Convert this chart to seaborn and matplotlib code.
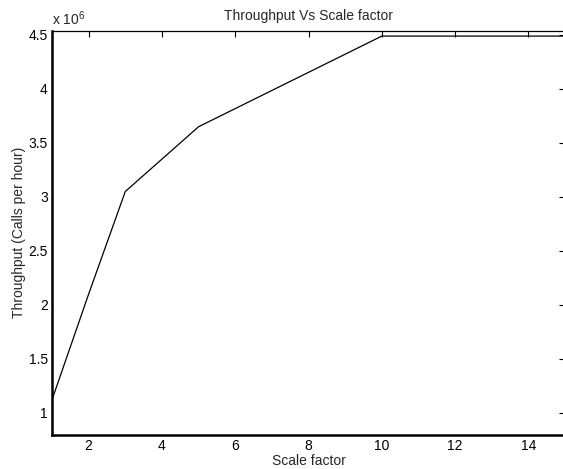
import matplotlib
matplotlib.use("Agg")
import matplotlib.pyplot as plt
import seaborn as sns
import pandas as pd
from matplotlib.ticker import FuncFormatter

scale_factor = [1, 2, 3, 5, 10, 15]
throughput = [1.12e6, 2.1e6, 3.05e6, 3.65e6, 4.49e6, 4.49e6]
x_ticks = [2, 4, 6, 8, 10, 12, 14]
y_ticks = [1e6, 1.5e6, 2e6, 2.5e6, 3e6, 3.5e6, 4e6, 4.5e6]

sns.set_style("white")
plt.rcParams['font.family'] = ['Liberation Sans', 'DejaVu Sans']
plt.rcParams['mathtext.fontset'] = 'custom'
plt.rcParams['mathtext.rm'] = 'Liberation Sans'
plt.rcParams['mathtext.it'] = 'Liberation Sans'

df = pd.DataFrame({"Scale factor": scale_factor, "Throughput": throughput})

fig = plt.figure(figsize=(5.63, 4.69), dpi=100)
ax = fig.add_axes([0.0924, 0.0731, 0.9112, 0.8608])
sns.lineplot(data=df, x="Scale factor", y="Throughput", ax=ax, color="black",
             linewidth=0.9)

ax.set_xlim(1, 15)
ax.set_ylim(0.796e6, 4.537e6)
ax.set_xticks(x_ticks)
ax.set_yticks(y_ticks)
ax.yaxis.set_major_formatter(FuncFormatter(lambda v, p: f"{v/1e6:g}"))
ax.tick_params(direction="in", length=4, width=0.8, top=True, right=True,
               labelsize=10, pad=3, colors="black")

for side in ["left", "bottom"]:
    ax.spines[side].set_linewidth(1.8)
for side in ["top", "right"]:
    ax.spines[side].set_linewidth(0.9)
for s in ax.spines.values():
    s.set_color("black")

ax.set_title("Throughput Vs Scale factor", fontsize=10, pad=8)
ax.set_xlabel("Scale factor", fontsize=10, labelpad=0.5)
ax.set_ylabel("Throughput (Calls per hour)", fontsize=10, labelpad=1.5)
ax.text(0.0, 1.008, r"x 10$^{6}$", transform=ax.transAxes, fontsize=10,
        ha="left", va="bottom")

fig.savefig("out.png", dpi=100)
